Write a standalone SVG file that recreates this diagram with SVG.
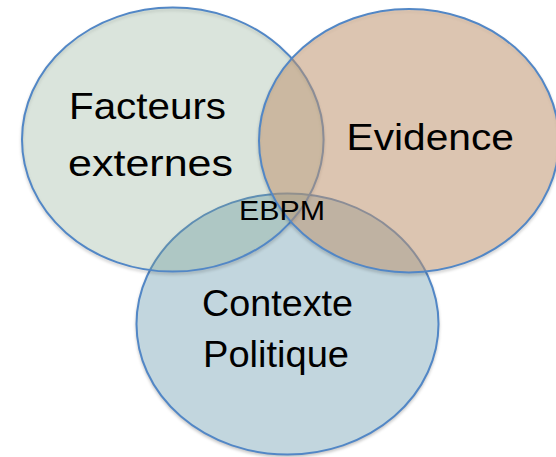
<svg xmlns="http://www.w3.org/2000/svg" width="556" height="457" viewBox="0 0 556 457">
<style>
.ring{stroke:#5287c6;stroke-width:2}
.lbl{font-family:"Liberation Sans",Arial,sans-serif;fill:#000;font-size:36px}
.small{font-size:28px}
</style>
<defs>
<filter id="sh" x="-10%" y="-10%" width="120%" height="125%" color-interpolation-filters="sRGB">
<feDropShadow dx="0" dy="2" stdDeviation="1.5" flood-color="#000" flood-opacity="0.22"/>
</filter>
</defs>
<rect width="556" height="457" fill="#fff"/>
<g id="contexte-politique">
<ellipse class="ring" cx="287.5" cy="324" rx="151" ry="130.5" fill="#c2d6de" filter="url(#sh)"/>
</g>
<g id="facteurs-externes">
<ellipse class="ring" cx="172.8" cy="139.6" rx="150.8" ry="132" fill="#93bb9b" fill-opacity="0.25" filter="url(#sh)"/>
</g>
<g id="evidence">
<ellipse class="ring" cx="409" cy="140.7" rx="150" ry="131.7" fill="#d3a27a" fill-opacity="0.48" filter="url(#sh)"/>
</g>
<g id="connectors"></g>
<g id="labels">
<text class="lbl" x="69" y="118.5" textLength="157" lengthAdjust="spacingAndGlyphs">Facteurs</text>
<text class="lbl" x="68" y="176" textLength="165" lengthAdjust="spacingAndGlyphs">externes</text>
<text class="lbl" x="346.5" y="149.5" textLength="167.5" lengthAdjust="spacingAndGlyphs">Evidence</text>
<text class="lbl small" x="239" y="219.5" textLength="86" lengthAdjust="spacingAndGlyphs">EBPM</text>
<text class="lbl" x="202" y="316" textLength="151" lengthAdjust="spacingAndGlyphs">Contexte</text>
<text class="lbl" x="203" y="367" textLength="146" lengthAdjust="spacingAndGlyphs">Politique</text>
</g>
</svg>
